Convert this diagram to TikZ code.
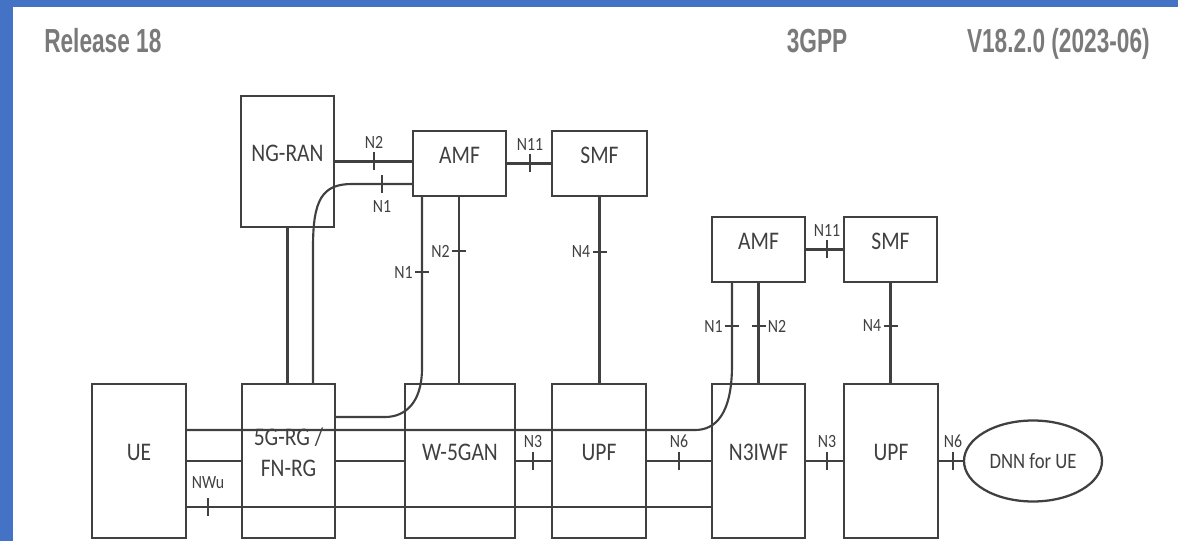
\documentclass[tikz,border=0pt]{standalone}
\usepackage{fontspec}
\newfontfamily\hdrfont[FakeStretch=0.68]{Liberation Sans}
\newfontfamily\netfont[FakeStretch=0.85]{Carlito}
\definecolor{bandblue}{RGB}{68,114,196}
\definecolor{hdrgray}{RGB}{122,122,122}
\definecolor{linegray}{RGB}{64,64,64}
\usetikzlibrary{positioning, fit, calc, shapes.geometric}

\begin{document}
\begin{tikzpicture}[x=0.75pt, y=-0.75pt,
	nfbox/.style={draw=linegray, line width=1.7pt, inner sep=0pt, text=linegray, align=center,
		font=\netfont\fontsize{19pt}{23pt}\selectfont},
	link/.style={draw=linegray, line width=1.6pt},
	tick/.style={draw=linegray, line width=1.5pt},
	lbl/.style={text=linegray, inner sep=1pt, font=\netfont\fontsize{14pt}{15pt}\selectfont},
	hdr/.style={text=hdrgray, inner sep=0pt, font=\hdrfont\bfseries\fontsize{25pt}{27pt}\selectfont}]
	\useasboundingbox (0,0) rectangle (1178,541);
	\fill[bandblue] (0,0) rectangle (1178,7);
	\fill[bandblue] (0,0) rectangle (12.5,541);
	\node[hdr, anchor=base west] (rel) at (44,53) {Release 18};
	\node[hdr, anchor=base] (gpp) at (817,53) {3GPP};
	\node[hdr, anchor=base east] (ver) at (1150,53) {V18.2.0 (2023-06)};

	\node[nfbox, fit={(241,96)(334,227)}] (ngran) {NG-RAN};
	\node[nfbox, fit={(413,131)(506,196)}] (amfA) {AMF};
	\node[nfbox, fit={(552,131)(647,196)}] (smfA) {SMF};
	\node[nfbox, fit={(712,217)(805,282)}] (amfB) {AMF};
	\node[nfbox, fit={(844,217)(937,282)}] (smfB) {SMF};
	\node[nfbox, fit={(92,384)(186,538)}] (ue) {UE};
	\node[nfbox, fit={(242,384)(335,538)}] (rg) {5G-RG /\\FN-RG};
	\node[nfbox, fit={(405,384)(515,538)}] (wgan) {W-5GAN};
	\node[nfbox, fit={(552,384)(646,538)}] (upfA) {UPF};
	\node[nfbox, fit={(712,384)(805,538)}] (n3iwf) {N3IWF};
	\node[nfbox, fit={(844,384)(938,538)}] (upfB) {UPF};
	\node[nfbox, ellipse, minimum width=103.5pt, minimum height=60.75pt,
		font=\netfont\fontsize{16.5pt}{18pt}\selectfont] (dnn) at (1033,461) {DNN for UE};

	\coordinate (rgup) at (313,247);
	\coordinate (rgbend) at (352,184);
	\coordinate (amfdn) at (422,368);
	\coordinate (rgn1) at (385,417);
	\coordinate (n2x) at (459,0);
	\coordinate (topy) at (0,430);
	\coordinate (boty) at (0,507);
	\coordinate (upbend) at (695,430);
	\coordinate (amfBdn) at (732,365);

	\draw[link] (ngran.east) -- (ngran.east -| amfA.west);
	\draw[link] (amfA) -- (smfA);
	\draw[link] (amfB) -- (smfB);
	\draw[link] (rg.north -| ngran.south) -- (ngran.south);
	\draw[link] (rg.north -| rgup) -- (rgup) .. controls +(0,-47) and +(-30,0) .. (rgbend) -- (rgbend -| amfA.west);
	\draw[link] (amfA.south -| amfdn) -- (amfdn) .. controls +(0,35) and +(20,0) .. (rgn1) -- (rgn1 -| rg.east);
	\draw[link] (amfA.south -| n2x) -- (wgan.north -| n2x);
	\draw[link] (smfA.south) -- (smfA.south |- upfA.north);
	\draw[link] (amfB.south) -- (amfB.south |- n3iwf.north);
	\draw[link] (smfB.south) -- (smfB.south |- upfB.north);
	\draw[link] (ue.east |- topy) -- (upbend) .. controls +(20,0) and +(0,50) .. (amfBdn) -- (amfBdn |- amfB.south);
	\draw[link] (ue) -- (rg);
	\draw[link] (rg) -- (wgan);
	\draw[link] (wgan) -- (upfA);
	\draw[link] (upfA) -- (n3iwf);
	\draw[link] (n3iwf) -- (upfB);
	\draw[link] (upfB) -- (dnn);
	\draw[link] (ue.east |- boty) -- (n3iwf.west |- boty);

	\foreach \tx/\ty/\lab in {374/161.5/N2, 530/163.5/N11, 827/249.5/N11, 533/461/N3, 679/461/N6, 827/461/N3, 953/461/N6}
		\draw[tick] (\tx,\ty+9) -- (\tx,\ty-9) node[lbl, above=1.5pt] {\lab};
	\draw[tick] (382,184-9) -- (382,184+9) node[lbl, below=4pt] {N1};
	\draw[tick] (208,507+9) -- (208,507-9) node[lbl, above=5pt] {NWu};
	\foreach \tx/\ty/\lab in {459/251/N2, 422/272/N1, 599.5/252/N4, 732/326/N1, 890.5/326/N4}
		\draw[tick] (\tx+7,\ty) -- (\tx-7,\ty) node[lbl, left] {\lab};
	\draw[tick] (758.5-7,326) -- (758.5+7,326) node[lbl, right] {N2};
\end{tikzpicture}
\end{document}
